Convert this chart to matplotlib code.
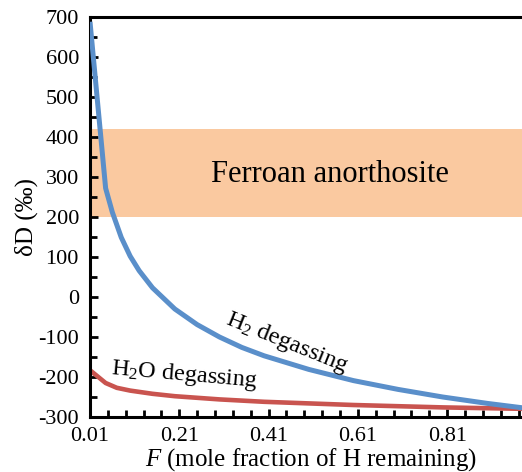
import matplotlib
matplotlib.use("Agg")
import matplotlib.pyplot as plt
from matplotlib.ticker import MultipleLocator, FixedLocator

# Rayleigh degassing curves
F_h2 = [0.01, 0.045, 0.06, 0.08, 0.10, 0.12, 0.15, 0.20, 0.25, 0.30,
        0.35, 0.40, 0.50, 0.60, 0.70, 0.80, 0.90, 1.00]
dD_h2 = [688, 272, 212, 149, 102, 66, 23, -30, -69, -100,
         -126, -147, -181, -209, -231, -250, -266, -280]

F_h2o = [0.01, 0.045, 0.07, 0.10, 0.15, 0.20, 0.30, 0.40, 0.50, 0.60,
         0.70, 0.80, 0.90, 1.00]
dD_h2o = [-183, -215, -227, -234, -242, -248, -256, -262, -266, -270,
          -273, -276, -278, -280]

# ferroan anorthosite range (per mil)
fan_range = [200, 420]

x_ticks = [0.01, 0.21, 0.41, 0.61, 0.81]
x_ticklabels = ["0.01", "0.21", "0.41", "0.61", "0.81"]

plt.rcParams["font.family"] = ["Liberation Serif", "DejaVu Serif"]
plt.rcParams["mathtext.fontset"] = "custom"
plt.rcParams["mathtext.rm"] = "Liberation Serif"
plt.rcParams["mathtext.it"] = "Liberation Serif:italic"
plt.rcParams["axes.unicode_minus"] = False

fig = plt.figure(figsize=(5.22, 4.72), dpi=100)
ax = fig.add_axes([90 / 522, 1 - 417 / 472, (532 - 90) / 522, (417 - 17) / 472])

ax.axhspan(fan_range[0], fan_range[1], color="#FAC9A0", lw=0, zorder=0)
ax.plot(F_h2, dD_h2, color="#5A8FCA", lw=3.6, solid_capstyle="butt", zorder=3)
ax.plot(F_h2o, dD_h2o, color="#C9544F", lw=3.3, solid_capstyle="butt", zorder=2)

ax.set_xlim(0.01, 1.0)
ax.set_ylim(-300, 700)

ax.xaxis.set_major_locator(FixedLocator(x_ticks))
ax.set_xticklabels(x_ticklabels)
ax.xaxis.set_minor_locator(MultipleLocator(0.04, offset=0.01))
ax.yaxis.set_major_locator(MultipleLocator(100))
ax.yaxis.set_minor_locator(MultipleLocator(50))

ax.tick_params(which="both", direction="in", width=2, labelsize=16,
               top=False, right=False)
ax.tick_params(which="major", length=6)
ax.tick_params(which="minor", length=5)
ax.tick_params(axis="x", pad=7)
ax.tick_params(axis="y", pad=8)

for side in ["left", "bottom", "top", "right"]:
    ax.spines[side].set_linewidth(2.2)

ax.set_xlabel("$F$ (mole fraction of H remaining)", fontsize=18, labelpad=0)
ax.set_ylabel("δD (‰)", fontsize=18, labelpad=0)

ax.text(0.548, 305, "Ferroan anorthosite", fontsize=22,
        ha="center", va="center")
ax.text(0.45, -115, r"H$_\mathrm{2}$ degassing", fontsize=17.5,
        ha="center", va="center", rotation=-22, rotation_mode="anchor")
ax.text(0.222, -194, r"H$_\mathrm{2}$O degassing", fontsize=17.5,
        ha="center", va="center", rotation=-5, rotation_mode="anchor")

fig.savefig("out.png", dpi=100)
